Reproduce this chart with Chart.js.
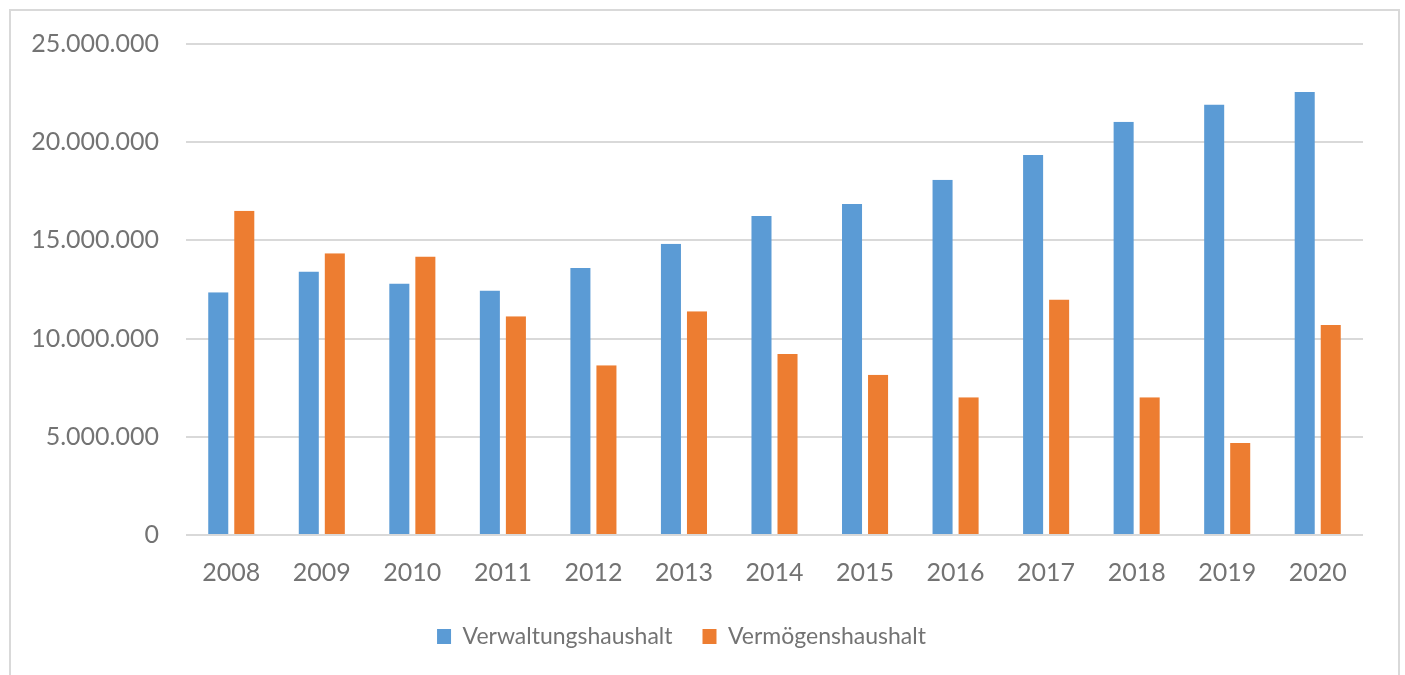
<!DOCTYPE html>
<html>
<head>
<meta charset="utf-8">
<script src="https://cdn.jsdelivr.net/npm/chart.js@4"></script>
<style>
  html, body { margin: 0; padding: 0; background: #fff; }
  #frame {
    position: absolute; left: 9px; top: 9px; width: 1387px; height: 670px;
    border: 2px solid #d9d9d9; box-sizing: content-box;
  }
  #wrap { position: absolute; left: 0; top: 0; width: 1405px; height: 675px; }
</style>
</head>
<body>
<div id="frame"></div>
<div id="wrap"><canvas id="chartCanvas"></canvas></div>
<script>
// Jahre
const years = ["2008", "2009", "2010", "2011", "2012", "2013", "2014", "2015", "2016", "2017", "2018", "2019", "2020"];
// Verwaltungshaushalt (Euro)
const verwaltung = [12360000, 13420000, 12810000, 12450000, 13590000, 14830000, 16240000, 16850000, 18090000, 19350000, 21040000, 21920000, 22550000];
// Vermögenshaushalt (Euro)
const vermoegen = [16510000, 14340000, 14180000, 11140000, 8640000, 11390000, 9210000, 8160000, 7020000, 11990000, 7010000, 4690000, 10690000];
const seriesNames = ["Verwaltungshaushalt", "Vermögenshaushalt"];

const textColor = "#737373";
const fontFamily = "Lato, 'Open Sans', sans-serif";

// deutsche Tausenderpunkte
const fmt = (v) => String(Math.round(v)).replace(/\B(?=(\d{3})+(?!\d))/g, ".");

const ctx = document.getElementById("chartCanvas").getContext("2d");

new Chart(ctx, {
  type: "bar",
  data: {
    labels: years,
    datasets: [
      {
        label: seriesNames[0],
        data: verwaltung,
        backgroundColor: "#5B9BD5",
        borderColor: "rgba(0,0,0,0)",
        borderWidth: { left: 3, right: 3, top: 0, bottom: 0 },
      },
      {
        label: seriesNames[1],
        data: vermoegen,
        backgroundColor: "#ED7D31",
        borderColor: "rgba(0,0,0,0)",
        borderWidth: { left: 3, right: 3, top: 0, bottom: 0 },
      },
    ],
  },
  options: {
    responsive: true,
    maintainAspectRatio: false,
    animation: false,
    layout: { padding: { left: 0, right: 42, top: 44, bottom: 17 } },
    plugins: {
      legend: {
        position: "bottom",
        labels: {
          color: textColor,
          font: { family: fontFamily, size: 23 },
          boxWidth: 14,
          boxHeight: 15,
          padding: 30,
        },
      },
      tooltip: { enabled: false },
    },
    datasets: {
      bar: { categoryPercentage: 0.575, barPercentage: 1.0 },
    },
    scales: {
      x: {
        grid: { display: false },
        border: { display: false },
        ticks: { color: textColor, font: { family: fontFamily, size: 25 }, padding: 15 },
        afterFit: (scale) => { scale.height = 60; },
      },
      y: {
        min: 0,
        max: 25000000,
        grid: { color: "#d9d9d9", lineWidth: 2, drawTicks: false },
        border: { display: false },
        ticks: {
          stepSize: 5000000,
          color: textColor,
          font: { family: fontFamily, size: 25 },
          padding: 27,
          callback: (v) => fmt(v),
        },
        afterFit: (scale) => { scale.width = 186; },
      },
    },
  },
});
</script>
</body>
</html>
